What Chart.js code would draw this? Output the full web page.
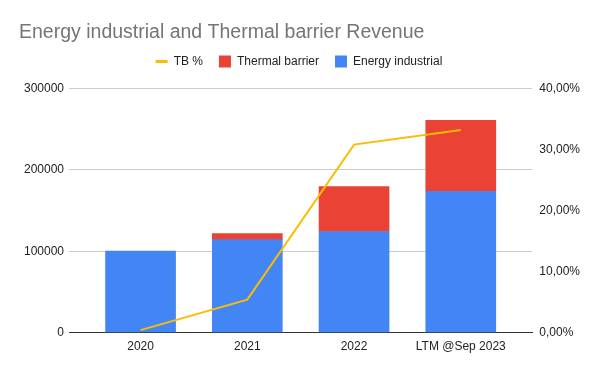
<!DOCTYPE html>
<html>
<head>
<meta charset="utf-8">
<script src="https://cdn.jsdelivr.net/npm/chart.js@4"></script>
<style>
  html, body { margin: 0; padding: 0; background: #fff; }
  #wrap { width: 600px; height: 371px; }
</style>
</head>
<body>
<div id="wrap"><canvas id="revenue"></canvas></div>
<script>
const categories = ['2020', '2021', '2022', 'LTM @Sep 2023'];
const energyIndustrial = [100000, 114300, 124200, 173400];
const thermalBarrier = [null, 7400, 55300, 87300];  // no thermal barrier in 2020
const tbPercent = [0.004, 0.054, 0.308, 0.332];

const leftTicks = [0, 100000, 200000, 300000];
const rightTicks = [0, 0.1, 0.2, 0.3, 0.4];

const toPoints = (arr) => arr.map((v, i) => ({ x: i, y: v }));

// a bit more room under the legend, like the sheets chart
const legendGap = {
  id: 'legendGap',
  beforeLayout(chart) {
    const lg = chart.legend;
    if (lg && !lg._gapAdded) {
      const fit = lg.fit;
      lg.fit = function () {
        fit.call(this);
        this.height += 11;
      };
      lg._gapAdded = true;
    }
  },
  afterLayout(chart) {
    chart.legend.left -= 4;
    chart.legend.right -= 4;
  }
};

Chart.defaults.font.family = '"Liberation Sans", Arial, sans-serif';
Chart.defaults.color = '#222';

var ctx = document.getElementById('revenue').getContext('2d');
var revenueChart = new Chart(ctx, {
  type: 'bar',
  data: {
    datasets: [{
      label: 'Energy industrial',
      data: toPoints(energyIndustrial),
      backgroundColor: '#4285F4',
      yAxisID: 'y',
      order: 1,
      pointStyle: 'rect',
      barThickness: 70
    }, {
      label: 'Thermal barrier',
      data: toPoints(thermalBarrier),
      backgroundColor: '#EA4335',
      yAxisID: 'y',
      order: 1,
      pointStyle: 'rect',
      barThickness: 70
    }, {
      type: 'line',
      label: 'TB %',
      data: toPoints(tbPercent),
      borderColor: '#FBBC04',
      backgroundColor: '#FBBC04',
      borderWidth: 2,
      pointRadius: 0,
      tension: 0,
      yAxisID: 'y1',
      order: 0,
      pointStyle: 'line'
    }]
  },
  options: {
    responsive: true,
    maintainAspectRatio: false,
    animation: false,
    layout: {
      padding: { left: 19, right: 13, top: 17, bottom: 10 }
    },
    plugins: {
      title: {
        display: true,
        text: 'Energy industrial and Thermal barrier Revenue',
        align: 'start',
        color: '#757575',
        font: { size: 19.5, weight: 'normal' },
        padding: { top: 4, bottom: -5 }
      },
      legend: {
        position: 'top',
        labels: {
          usePointStyle: true,
          pointStyleWidth: 12,
          padding: 16,
          font: { size: 12 },
          color: '#222',
          generateLabels: (chart) => {
            const items = Chart.defaults.plugins.legend.labels.generateLabels(chart);
            items.forEach((it) => {
              if (it.pointStyle === 'line') it.lineWidth = 3;
            });
            return items;
          },
          sort: (a, b) => b.datasetIndex - a.datasetIndex
        }
      },
      tooltip: { enabled: false }
    },
    scales: {
      x: {
        type: 'linear',
        min: -0.67,
        max: 3.67,
        offset: false,
        stacked: true,
        afterBuildTicks: (scale) => {
          scale.ticks = categories.map((c, i) => ({ value: i }));
        },
        ticks: {
          callback: (v) => categories[v],
          font: { size: 12 },
          color: '#222',
          padding: 7,
          maxRotation: 0
        },
        grid: { display: false, drawTicks: false },
        border: { display: true, color: '#333', width: 1 }
      },
      y: {
        position: 'left',
        stacked: true,
        min: 0,
        max: 300000,
        afterBuildTicks: (scale) => {
          scale.ticks = leftTicks.map((v) => ({ value: v }));
        },
        ticks: {
          callback: (v) => String(v),
          font: { size: 12 },
          color: '#222',
          padding: 5
        },
        grid: {
          drawTicks: false,
          color: (c) => (c.tick && c.tick.value === 0) ? 'rgba(0,0,0,0)' : '#ccc'
        },
        border: { display: false }
      },
      y1: {
        position: 'right',
        min: 0,
        max: 0.4,
        afterBuildTicks: (scale) => {
          scale.ticks = rightTicks.map((v) => ({ value: v }));
        },
        ticks: {
          callback: (v) => (v * 100).toFixed(2).replace('.', ',') + '%',
          font: { size: 12 },
          color: '#222',
          padding: 7
        },
        grid: { display: false, drawTicks: false },
        border: { display: false }
      }
    }
  },
  plugins: [legendGap]
});
</script>
</body>
</html>
